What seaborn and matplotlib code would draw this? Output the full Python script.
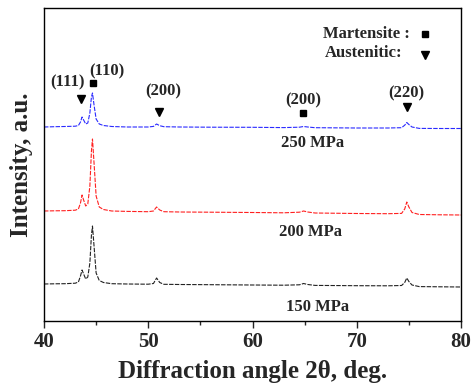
import numpy as np
import pandas as pd
import seaborn as sns
import matplotlib
matplotlib.use("Agg")
import matplotlib.pyplot as plt
from matplotlib.ticker import MultipleLocator

# ---- data ----
two_theta = [40, 41, 42, 43, 43.3, 43.5, 43.65, 43.8, 44.0, 44.2, 44.4, 44.55, 44.65,
             44.8, 45.0, 45.3, 45.7, 46.5, 48, 50, 50.5, 50.8, 51.1, 51.5, 53, 56,
             60, 63, 64.5, 64.9, 65.3, 66, 70, 73, 74.3, 74.6, 74.8, 75.0, 75.3,
             76, 78, 80]

i_250 = [194, 194.3, 194.5, 194.8, 195.5, 199, 204, 201, 197, 198, 208, 224, 228,
         216, 202, 197, 195.5, 194.5, 194, 194, 194.6, 197, 195.3, 194.3, 194, 193.8,
         193.7, 193.4, 193.8, 194.5, 194, 193.3, 193, 193, 193.3, 195.8, 198.5, 196.5, 194,
         192.6, 192.5, 192.5]
i_200 = [110, 110.2, 110.3, 110.8, 112, 118, 126, 121, 115, 117, 135, 170, 182,
         158, 125, 114, 111.5, 110, 109.6, 109.3, 110, 114, 111, 109.3, 109, 108.8,
         108.5, 108.2, 108.8, 110, 109, 108, 107.5, 107.3, 107.6, 112, 119, 114, 108.5,
         106.5, 106.2, 106]
i_150 = [37, 37.2, 37.3, 37.8, 39, 45, 51, 47, 42, 44, 58, 86, 95,
         75, 48, 40.5, 38.5, 37.3, 37, 36.8, 37.5, 43, 38.5, 36.7, 36.5, 36.3,
         36, 35.8, 36.2, 37.5, 36.5, 35.6, 35.3, 35.2, 35.5, 38.5, 43, 39.5, 36,
         34.4, 34.2, 34]

series = ["150 MPa", "200 MPa", "250 MPa"]
colors = ["#222222", "#ff2020", "#2a2aff"]
x_ticks = [40, 50, 60, 70, 80]

rows = []
for name, vals in zip(series, [i_150, i_200, i_250]):
    for x, y in zip(two_theta, vals):
        rows.append({"2theta": x, "I": y, "s": name})
df = pd.DataFrame(rows)

sns.set_theme(style="ticks")
plt.rcParams["font.family"] = ["Liberation Serif", "DejaVu Serif"]
plt.rcParams["font.weight"] = "bold"

fig = plt.figure(figsize=(4.71, 3.90), dpi=100)
ax = fig.add_axes([44 / 471, 1 - 321 / 390, (461 - 44) / 471, (321 - 8) / 390])

sns.lineplot(data=df, x="2theta", y="I", hue="s", palette=dict(zip(series, colors)),
             ax=ax, legend=False, linewidth=0.8, dashes=False, sort=False)
for ln in ax.get_lines():
    ln.set_linestyle((0, (4, 1.2)))

ax.set_xlim(40, 80)
ax.set_ylim(0, 313)
ax.set_xticks(x_ticks)
ax.set_xticklabels([str(t) for t in x_ticks], fontsize=15, fontweight="bold")
ax.xaxis.set_minor_locator(MultipleLocator(5))
ax.tick_params(axis="x", which="major", direction="out", length=5, width=1, top=False, pad=3)
ax.tick_params(axis="x", which="minor", direction="out", length=3, width=1, top=False)
ax.set_yticks([])
for sp in ax.spines.values():
    sp.set_linewidth(1.0)
    sp.set_color("black")

ax.set_xlabel("Diffraction angle 2θ, deg.", fontsize=18, fontweight="bold", labelpad=6)
ax.set_ylabel("Intensity, a.u.", fontsize=18, fontweight="bold", labelpad=8)


def px(xp):
    return 40 + (xp - 44) / 10.425


def py(yp):
    return 321 - yp


tkw = dict(fontsize=12, fontweight="bold", ha="center", va="center")
# legend-like text
ax.text(px(410), py(34), "Martensite :", ha="right", va="center", fontsize=12, fontweight="bold")
ax.plot(px(425), py(34), marker="s", color="black", markersize=5)
ax.text(px(402), py(53), "Austenitic:", ha="right", va="center", fontsize=12, fontweight="bold")
ax.plot(px(425), py(55), marker="v", color="black", markersize=6)

# peak labels
ax.text(px(67), py(82), "(111)", **tkw)
ax.plot(px(81), py(99), marker="v", color="black", markersize=6)
ax.text(px(107), py(71), "(110)", **tkw)
ax.plot(px(93), py(83), marker="s", color="black", markersize=5)
ax.text(px(163), py(91), "(200)", **tkw)
ax.plot(px(159), py(112), marker="v", color="black", markersize=6)
ax.text(px(303), py(100), "(200)", **tkw)
ax.plot(px(303), py(113), marker="s", color="black", markersize=5)
ax.text(px(406), py(93), "(220)", **tkw)
ax.plot(px(407), py(107), marker="v", color="black", markersize=6)

# series labels
ax.text(px(313), py(143), "250 MPa", **tkw)
ax.text(px(311), py(232), "200 MPa", **tkw)
ax.text(px(318), py(307), "150 MPa", **tkw)

fig.savefig("out.png", dpi=100)
